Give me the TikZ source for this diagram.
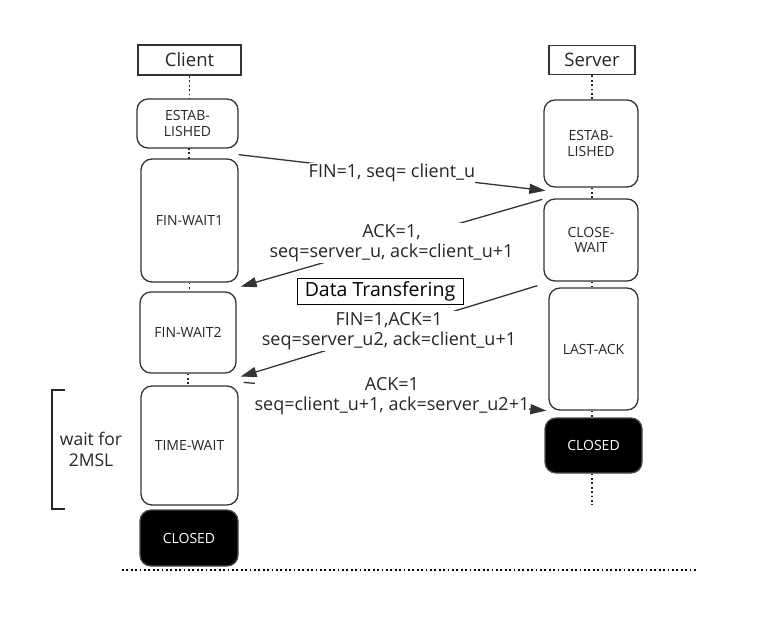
\documentclass[tikz,border=0pt]{standalone}
\usepackage{fontspec}
\setmainfont{Open Sans}
\usetikzlibrary{arrows.meta}

\tikzset{
  header/.style={draw=black!80, line width=1.8pt, inner sep=0pt, text=black!85,
    font=\fontsize{18.5}{21}\selectfont},
  statebox/.style={draw=black!80, line width=1.3pt, rounded corners=11pt, inner sep=0pt,
    align=center, text=black!85, font=\fontsize{14}{15.5}\selectfont},
  closedbox/.style={statebox, fill=black, draw=black!70, text=white},
  msg/.style={-{Triangle[length=16pt,width=10pt]}, draw=black!80, line width=1.3pt},
  msglabel/.style={fill=white, align=center, inner sep=1pt, inner xsep=0pt, text=black!85,
    font=\fontsize{18}{20}\selectfont},
  life/.style={draw=black!85, line width=1.8pt, dash pattern=on 1.8pt off 2.6pt}
}

\begin{document}
\begin{tikzpicture}[x=1pt,y=-1pt]
  \useasboundingbox (0,0) rectangle (760,632);

  % client side
  \node[header, minimum width=103pt, minimum height=30pt] (headC) at (189.5,60) {Client};
  \node[statebox, minimum width=101pt, minimum height=49pt] (estC) at (187.5,123.5) {ESTAB-\\LISHED};
  \node[statebox, minimum width=97pt, minimum height=123pt] (fw1) at (189.5,220.5) {FIN-WAIT1};
  \node[statebox, minimum width=96pt, minimum height=81pt] (fw2) at (188,332.5) {FIN-WAIT2};
  \node[statebox, minimum width=97pt, minimum height=119pt] (tw) at (189.5,445.5) {TIME-WAIT};
  \node[closedbox, minimum width=98pt, minimum height=56pt] (clC) at (189,538) {CLOSED};

  % server side
  \node[header, minimum width=86pt, minimum height=29pt] (headS) at (592,60) {Server};
  \node[statebox, minimum width=94pt, minimum height=87pt] (estS) at (591,143.5) {ESTAB-\\LISHED};
  \node[statebox, minimum width=94pt, minimum height=82pt] (cw) at (591,240) {CLOSE-\\WAIT};
  \node[statebox, minimum width=89pt, minimum height=122pt] (la) at (593.5,349) {LAST-ACK};
  \node[closedbox, minimum width=97pt, minimum height=55pt] (clS) at (593.5,445.5) {CLOSED};
  \coordinate (endS) at (592,505);

  % life lines
  \draw[life] (headC.south) -- (headC.south |- estC.north);
  \draw[life] (189,148) -- (189,159);
  \draw[life] (fw1.south) -- (fw1.south |- fw2.north);
  \draw[life] (fw2.south) -- (fw2.south |- tw.north);
  \draw[life] (headS.south) -- (headS.south |- estS.north);
  \draw[life] (estS.south -| headS.south) -- (cw.north -| headS.south);
  \draw[life] (cw.south -| headS.south) -- (la.north -| headS.south);
  \draw[life] (la.south -| headS.south) -- (clS.north -| headS.south);
  \draw[life] (clS.south -| headS.south) -- (endS);

  % messages
  \coordinate (m1a) at ([yshift=-6pt]estC.south east);
  \coordinate (m1b) at ([xshift=2pt,yshift=-3pt]estS.south west);
  \coordinate (m2a) at ([xshift=-1pt,yshift=-1pt]cw.north west);
  \coordinate (m2b) at ([xshift=2pt,yshift=-4pt]fw1.south east);
  \coordinate (m3a) at ([xshift=-6pt,yshift=-4pt]cw.south west);
  \coordinate (m3b) at ([xshift=4pt,yshift=-3pt]fw2.south east);
  \coordinate (m4a) at ([xshift=5pt,yshift=3pt]tw.north east);
  \coordinate (m4b) at ([xshift=-2pt]la.south west);

  \draw[msg] (m1a) -- node[msglabel] {FIN=1, seq= client\_u} (m1b);
  \draw[msg] (m2a) -- node[msglabel] {ACK=1,\\seq=server\_u, ack=client\_u+1} (m2b);
  \draw[msg] (m3a) -- node[msglabel] {FIN=1,ACK=1\\seq=server\_u2, ack=client\_u+1} (m3b);
  \draw[msg] (m4a) -- node[msglabel, pos=0.49] {ACK=1\\seq=client\_u+1, ack=server\_u2+1} (m4b);

  \node[draw, line width=0.8pt, inner sep=2pt, minimum width=166pt, minimum height=26pt,
    font=\fontsize{19.5}{22}\selectfont] (data) at (380,291) {Data Transfering};

  % 2MSL bracket
  \node[align=center, text=black!85, font=\fontsize{17.5}{21}\selectfont] (msl) at (91,449) {wait for\\2MSL};
  \draw[draw=black!85, line width=1.6pt] (65,390) -- (52,390) -- (52,509) -- (65,509);

  % bottom line
  \coordinate (botL) at (122,570);
  \coordinate (botR) at (698,570);
  \draw[life, draw=black] (botL) -- (botR);
\end{tikzpicture}
\end{document}
